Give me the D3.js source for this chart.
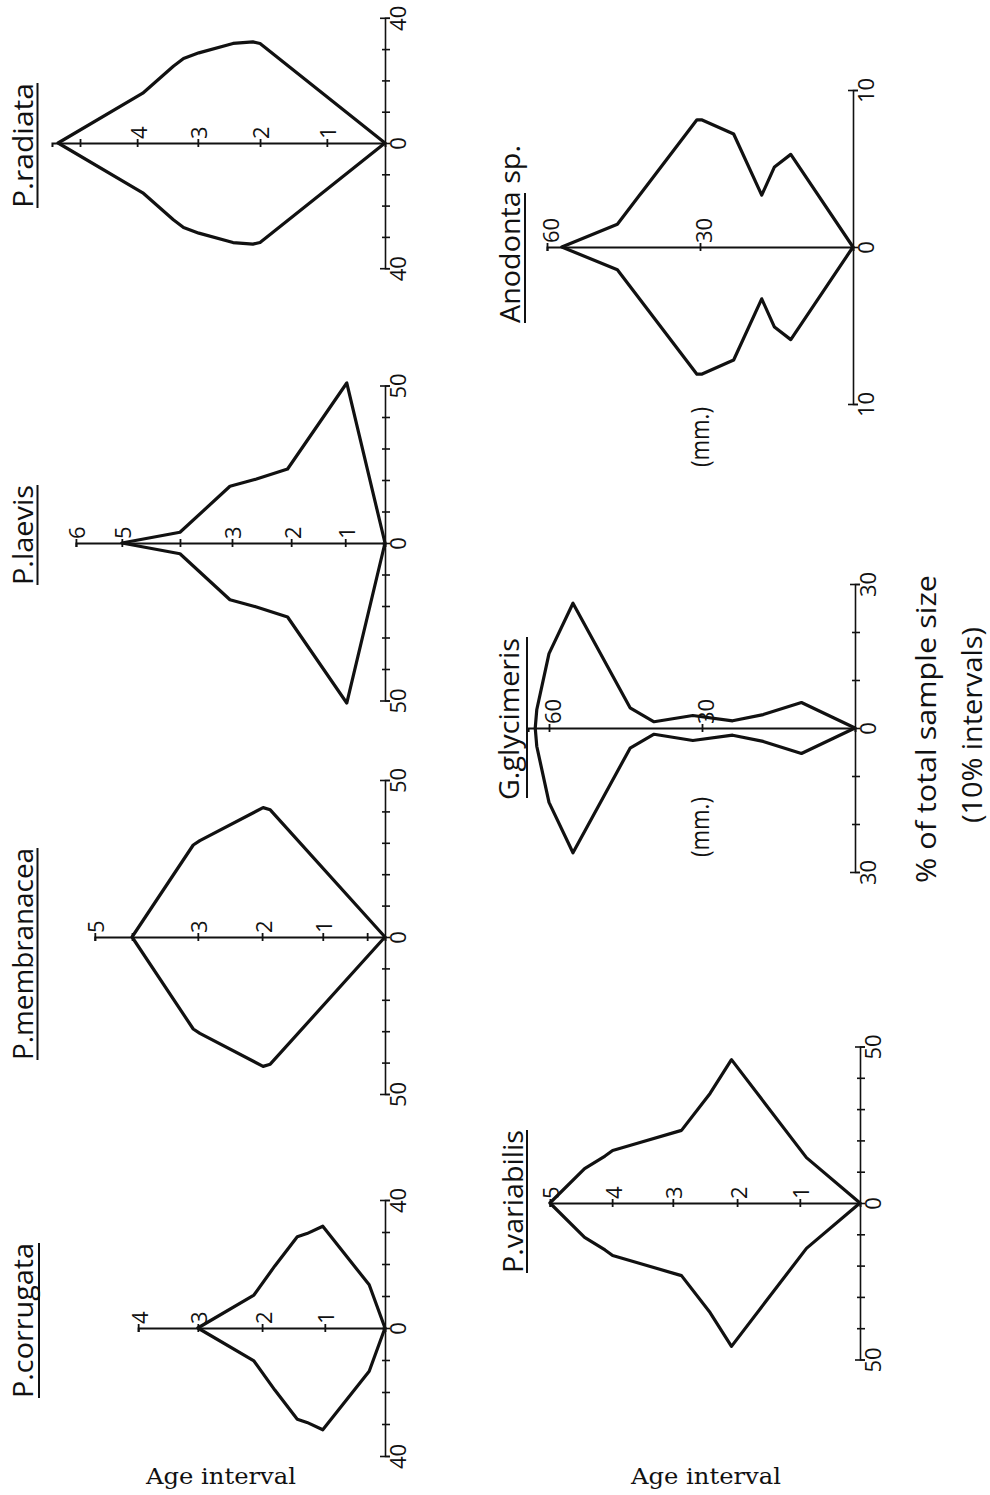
<!DOCTYPE html>
<html>
<head>
<meta charset="utf-8">
<script src="https://cdn.jsdelivr.net/npm/d3@7"></script>
<style>
  html, body { margin: 0; padding: 0; background: #fff; }
  svg { display: block; }
  .sans { font-family: "Open Sans", "DejaVu Sans", sans-serif; fill: #111; }
  .serif { font-family: "DejaVu Serif", serif; fill: #111; }
</style>
</head>
<body>
<svg id="chart" width="990" height="1495"></svg>
<script>
// Kite outlines: shell length (mm) of each vertex and the half-width of the
// kite there (% of total sample size). Age marks sit at the mean length of
// each age interval.
const radiataLen = [0, 24.5, 25.9, 29.8, 36.5, 39.5, 41.5, 47.5, 64.1];
const radiataPct = [0, 31.8, 32.3, 31.8, 28.8, 27.0, 24.5, 15.9, 0];
const radiataAgeAt = [11.4, 24.5, 36.7, 48.6, 59.8];
const radiataAgeLbl = ["1", "2", "3", "4", ""];

const laevisLen = [0, 7.5, 19.1, 25.2, 30.4, 40.2, 51.6];
const laevisPct = [0, 50.8, 23.5, 20.3, 18.0, 3.4, 0];
const laevisAgeAt = [7.8, 18.4, 30.0, 40.2, 51.6, 60.6];
const laevisAgeLbl = ["1", "2", "3", "", "5", "6"];

const membranaceaLen = [0, 22.5, 23.9, 36.3, 37.6, 49.6];
const membranaceaPct = [0, 40.5, 41.2, 30.7, 29.3, 0];
const membranaceaAgeAt = [3.5, 12.2, 24.1, 36.7, 49.6, 56.9];
const membranaceaAgeLbl = ["", "1", "2", "3", "", "5"];

const corrugataLen = [0, 3.1, 12.2, 15.3, 17.2, 21.6, 25.7, 36.7];
const corrugataPct = [0, 13.5, 31.8, 29.5, 28.5, 19.4, 10.3, 0];
const corrugataAgeAt = [11.8, 24.1, 36.7, 48.4];
const corrugataAgeLbl = ["1", "2", "3", "4"];

const anodontaLen = [0, 12.2, 15.4, 17.9, 23.4, 29.7, 30.6, 46.2, 57.1];
const anodontaPct = [0, 5.9, 5.1, 3.3, 7.2, 8.1, 8.1, 1.45, 0];
const anodontaAgeAt = [30, 60];
const anodontaAgeLbl = ["30", "60"];

const glycimerisLen = [0, 10.5, 18.0, 24.0, 31.8, 39.4, 44.1, 55.3, 60.0, 62.4, 62.7];
const glycimerisPct = [0, 5.3, 2.8, 1.5, 2.6, 1.3, 4.2, 26.0, 15.5, 3.8, 0];
const glycimerisAgeAt = [30, 60];
const glycimerisAgeLbl = ["30", "60"];

const variabilisLen = [0, 10.5, 25.2, 29.4, 35.0, 43.8, 48.5, 50.0, 54.0, 60.8];
const variabilisPct = [0, 14.5, 45.8, 35.0, 23.2, 19.0, 16.8, 15.0, 11.0, 0];
const variabilisAgeAt = [11.8, 24.1, 36.7, 48.6, 60.8];
const variabilisAgeLbl = ["1", "2", "3", "4", "5"];

// Percent axis extents and tick steps
const pctMaxes = { radiata: 40, laevis: 50, membranacea: 50, corrugata: 40, anodonta: 10, glycimeris: 30, variabilis: 50 };
const pctSteps = { radiata: 10, laevis: 10, membranacea: 10, corrugata: 10, anodonta: 10, glycimeris: 10, variabilis: 10 };

const MM_PX = 5.1; // horizontal length scale shared by all panels

const panels = [
  { key: "radiata", title: "P.radiata", len: radiataLen, pct: radiataPct, ageAt: radiataAgeAt, ageLbl: radiataAgeLbl,
    axisEnd: 65.3, ox: 385, oy: 143, ppp: 3.13,
    t: { bx: 33, yc: 145.5, len: 125, ux: 37.5, u0: 83, u1: 208 } },
  { key: "laevis", title: "P.laevis", len: laevisLen, pct: laevisPct, ageAt: laevisAgeAt, ageLbl: laevisAgeLbl,
    axisEnd: 60.6, ox: 385, oy: 543, ppp: 3.15,
    t: { bx: 33, yc: 535, len: 100, ux: 37.5, u0: 485, u1: 585 } },
  { key: "membranacea", title: "P.membranacea", len: membranaceaLen, pct: membranaceaPct, ageAt: membranaceaAgeAt, ageLbl: membranaceaAgeLbl,
    axisEnd: 56.9, ox: 385, oy: 937, ppp: 3.14,
    t: { bx: 33, yc: 954, len: 212, ux: 37.5, u0: 848, u1: 1060 } },
  { key: "corrugata", title: "P.corrugata", len: corrugataLen, pct: corrugataPct, ageAt: corrugataAgeAt, ageLbl: corrugataAgeLbl,
    axisEnd: 48.4, ox: 385, oy: 1328, ppp: 3.2,
    t: { bx: 33, yc: 1320.5, len: 155, ux: 39, u0: 1243, u1: 1398 } },
  { key: "anodonta", title: "Anodonta sp.", len: anodontaLen, pct: anodontaPct, ageAt: anodontaAgeAt, ageLbl: anodontaAgeLbl,
    axisEnd: 60, ox: 853, oy: 247, ppp: 15.7, minor: false,
    t: { bx: 520, yc: 234, len: 178, ux: 525, u0: 193, u1: 323 } },
  { key: "glycimeris", title: "G.glycimeris", len: glycimerisLen, pct: glycimerisPct, ageAt: glycimerisAgeAt, ageLbl: glycimerisAgeLbl,
    axisEnd: 64.1, ox: 855, oy: 728, ppp: 4.8,
    t: { bx: 519, yc: 719, len: 162, ux: 527, u0: 637, u1: 798 } },
  { key: "variabilis", title: "P.variabilis", len: variabilisLen, pct: variabilisPct, ageAt: variabilisAgeAt, ageLbl: variabilisAgeLbl,
    axisEnd: 60.8, ox: 860, oy: 1203, ppp: 3.13,
    t: { bx: 523, yc: 1201.5, len: 143, ux: 527, u0: 1130, u1: 1273 } }
];

const svg = d3.select("#chart");

panels.forEach(p => {
  const g = svg.append("g").attr("class", "panel-" + p.key);
  const pmax = pctMaxes[p.key];
  const step = pctSteps[p.key];

  // length runs leftwards from the percent axis
  const lenScale = d3.scaleLinear().domain([0, p.axisEnd])
    .range([p.ox, p.ox - p.axisEnd * MM_PX]);
  const pctScale = d3.scaleLinear().domain([-pmax, pmax])
    .range([p.oy + pmax * p.ppp, p.oy - pmax * p.ppp]);

  // percent axis (vertical, through length 0)
  const pTicks = p.minor === false ? [-pmax, 0, pmax] : d3.range(-pmax, pmax + 0.001, step);
  const pAxis = g.append("g")
    .attr("transform", `translate(${p.ox},0)`)
    .call(d3.axisRight(pctScale).tickValues(pTicks).tickSizeOuter(0).tickSize(5)
      .tickFormat(d => (Math.abs(d) === pmax || d === 0) ? String(Math.abs(d)) : ""));
  pAxis.select(".domain").attr("stroke", "#111").attr("stroke-width", 1.6);
  pAxis.selectAll(".tick line").attr("x1", -3).attr("stroke", "#111").attr("stroke-width", 1.6);
  pAxis.selectAll(".tick line").filter(d => Math.abs(d) === pmax).attr("x1", -5).attr("x2", 5);
  pAxis.selectAll(".tick text")
    .attr("x", null).attr("dy", "0.36em")
    .attr("transform", "translate(13,0) rotate(-90)")
    .attr("text-anchor", "middle")
    .attr("class", "sans").style("font-size", "22px").attr("fill", "#111");
  pAxis.attr("font-family", null).attr("font-size", null);

  // length / age axis (horizontal centre line)
  const aAxis = g.append("g")
    .attr("transform", `translate(0,${p.oy})`)
    .call(d3.axisBottom(lenScale).tickValues(p.ageAt).tickSizeOuter(0).tickSize(4)
      .tickFormat((d, i) => p.ageLbl[i]));
  aAxis.select(".domain").attr("stroke", "#111").attr("stroke-width", 2);
  aAxis.selectAll(".tick line").attr("y1", -4).attr("stroke", "#111").attr("stroke-width", 1.8);
  const mmAxis = p.ageLbl.some(s => s.length > 1);
  aAxis.selectAll(".tick text")
    .attr("y", null).attr("dy", "0.36em")
    .attr("transform", `translate(${mmAxis ? 4 : 1},-4) rotate(-90)`)
    .attr("text-anchor", "start")
    .attr("class", "sans").style("font-size", "22px").attr("fill", "#111");
  aAxis.attr("font-family", null).attr("font-size", null);

  // kite outline
  const upper = p.len.map((l, i) => [l, p.pct[i]]);
  const lower = p.len.map((l, i) => [l, -p.pct[i]]).reverse();
  const line = d3.line().x(d => lenScale(d[0])).y(d => pctScale(d[1]));
  g.append("path")
    .attr("d", line(upper.concat(lower)) + "Z")
    .attr("fill", "none").attr("stroke", "#111")
    .attr("stroke-width", 3.2).attr("stroke-linejoin", "round");

  // species name, underlined
  g.append("text")
    .attr("class", "sans")
    .attr("transform", `translate(${p.t.bx},${p.t.yc}) rotate(-90)`)
    .attr("text-anchor", "middle")
    .attr("textLength", p.t.len).attr("lengthAdjust", "spacingAndGlyphs")
    .style("font-size", "28px")
    .text(p.title);
  g.append("line")
    .attr("x1", p.t.ux).attr("x2", p.t.ux)
    .attr("y1", p.t.u0).attr("y2", p.t.u1)
    .attr("stroke", "#111").attr("stroke-width", 2);
});

// unit labels
function vText(x, y, str, size, len) {
  const t = svg.append("text").attr("class", "sans")
    .attr("transform", `translate(${x},${y}) rotate(-90)`)
    .attr("text-anchor", "middle").attr("dy", "0.36em")
    .style("font-size", size + "px").text(str);
  if (len) t.attr("textLength", len).attr("lengthAdjust", "spacingAndGlyphs");
}
vText(700, 437, "(mm.)", 25, 60);
vText(700, 827, "(mm.)", 25, 60);
vText(926, 729, "% of total sample size", 28, 308);
vText(972, 725, "(10% intervals)", 28, 196);

// bottom captions
[146, 631].forEach(x => {
  svg.append("text").attr("class", "serif")
    .attr("x", x).attr("y", 1484)
    .attr("textLength", 150).attr("lengthAdjust", "spacingAndGlyphs")
    .style("font-size", "22px")
    .text("Age interval");
});
</script>
</body>
</html>
